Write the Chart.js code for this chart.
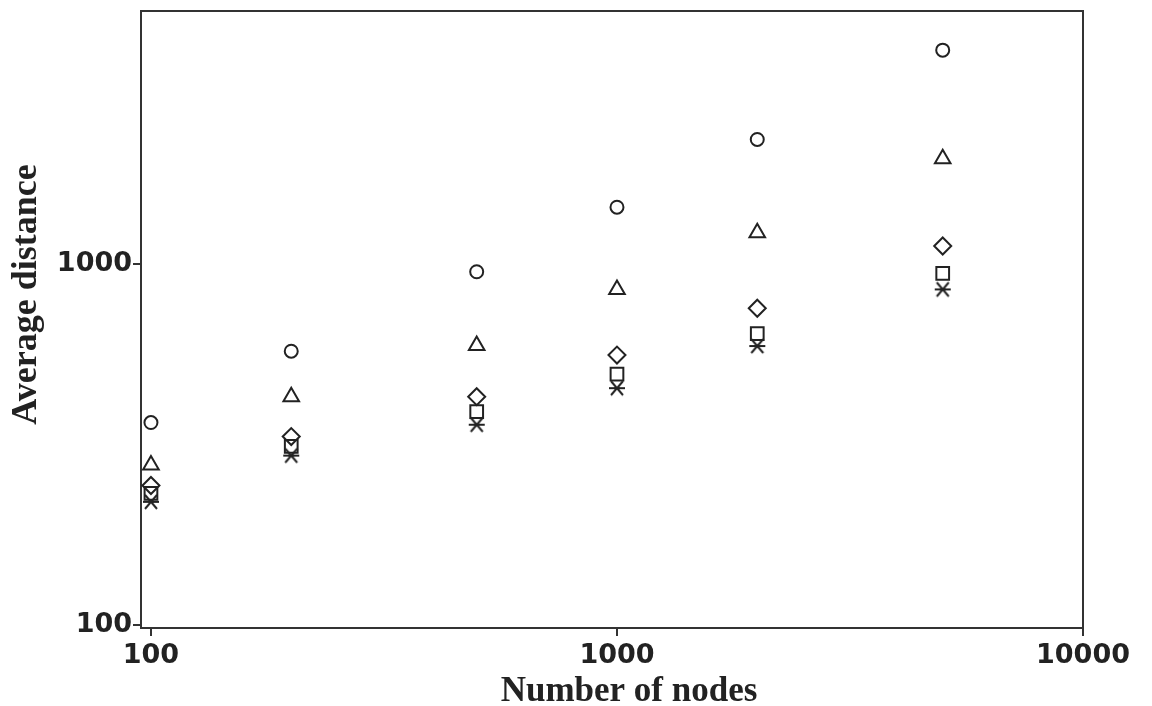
<!DOCTYPE html>
<html>
<head>
<meta charset="utf-8">
<script src="https://cdn.jsdelivr.net/npm/chart.js@4/dist/chart.umd.min.js"></script>
<style>
  html, body { margin: 0; padding: 0; background: #fff; }
  #chart { display: block; }
</style>
</head>
<body>
<canvas id="chart" width="1152" height="706"></canvas>
<script>
// データ
const nodes = [100, 200, 500, 1000, 2000, 5000];
const circleVals   = [363, 572, 949, 1432, 2205, 3896];
const triangleVals = [277, 428, 593, 848, 1216, 1951];
const diamondVals  = [243, 332, 428, 558, 752, 1118];
const squareVals   = [231, 312, 389, 494, 640, 939];
const starVals     = [219, 294, 358, 452, 591, 848];
const xTicks = [100, 1000, 10000];
const yTicks = [100, 1000];

const ink = '#222';

// アスタリスク型のマーカー
function makeStar() {
  const c = document.createElement('canvas');
  c.width = 20; c.height = 20;
  const g = c.getContext('2d');
  g.strokeStyle = ink;
  g.lineWidth = 2;
  g.beginPath();
  g.moveTo(2, 10); g.lineTo(18, 10);
  g.moveTo(4, 3); g.lineTo(16, 17);
  g.moveTo(16, 3); g.lineTo(4, 17);
  g.stroke();
  return c;
}

function series(vals, style, radius) {
  return {
    data: nodes.map((x, i) => ({ x: x, y: vals[i] })),
    pointStyle: style,
    pointRadius: radius,
    borderColor: ink,
    backgroundColor: 'transparent',
    pointBorderWidth: 2,
    showLine: false
  };
}

// 枠線と軸タイトル
const frame = {
  id: 'frame',
  beforeDatasetsDraw(chart) {
    const a = chart.chartArea;
    const ctx = chart.ctx;
    ctx.save();
    ctx.strokeStyle = '#333';
    ctx.lineWidth = 2;
    ctx.strokeRect(a.left, a.top, a.right - a.left, a.bottom - a.top);
    ctx.restore();
  },
  afterDraw(chart) {
    const a = chart.chartArea;
    const ctx = chart.ctx;
    ctx.save();
    ctx.fillStyle = ink;
    ctx.font = 'bold 35px "Liberation Serif", "Times New Roman", serif';
    ctx.textAlign = 'center';
    ctx.textBaseline = 'alphabetic';
    ctx.fillText('Number of nodes', (a.left + a.right) / 2 + 17, 701);
    ctx.font = 'bold 36px "Liberation Serif", "Times New Roman", serif';
    ctx.translate(36, (a.top + a.bottom) / 2 - 25);
    ctx.rotate(-Math.PI / 2);
    ctx.fillText('Average distance', 0, 0);
    ctx.restore();
  }
};

const tickFont = { family: '"DejaVu Sans", Verdana, sans-serif', size: 27, weight: 'bold' };

// ラベルのはみ出し分の余白を無効にする
function noPad(s) {
  s.paddingTop = 0;
  s.paddingBottom = 0;
  s.getPadding = () => ({ left: 0, top: 0, right: 0, bottom: 0 });
}

new Chart(document.getElementById('chart'), {
  type: 'scatter',
  data: {
    datasets: [
      series(circleVals, 'circle', 6.5),
      series(triangleVals, 'triangle', 9),
      series(diamondVals, 'rectRot', 8.5),
      series(squareVals, 'rect', 9),
      series(starVals, makeStar(), 8)
    ]
  },
  options: {
    responsive: false,
    animation: false,
    events: [],
    layout: { padding: { top: 3, right: 69, left: 0, bottom: 0 } },
    plugins: { legend: { display: false }, tooltip: { enabled: false } },
    scales: {
      x: {
        type: 'logarithmic',
        min: 95.2,
        max: 10000,
        afterBuildTicks: s => { s.ticks = xTicks.map(v => ({ value: v })); },
        afterFit: s => { s.height = 78; noPad(s); },
        border: { display: false },
        grid: { drawOnChartArea: false, drawTicks: true, tickLength: 8, color: '#333', lineWidth: 2 },
        ticks: { color: ink, font: tickFont, padding: 4, maxRotation: 0, autoSkip: false, callback: v => String(v) }
      },
      y: {
        type: 'logarithmic',
        min: 98,
        max: 5000,
        afterBuildTicks: s => { s.ticks = yTicks.map(v => ({ value: v })); },
        afterFit: s => { s.width = 141; noPad(s); },
        border: { display: false },
        grid: { drawOnChartArea: false, drawTicks: true, tickLength: 8, color: '#333', lineWidth: 2 },
        ticks: { color: ink, font: tickFont, padding: 1, autoSkip: false, callback: v => String(v) }
      }
    }
  },
  plugins: [frame]
});
</script>
</body>
</html>
